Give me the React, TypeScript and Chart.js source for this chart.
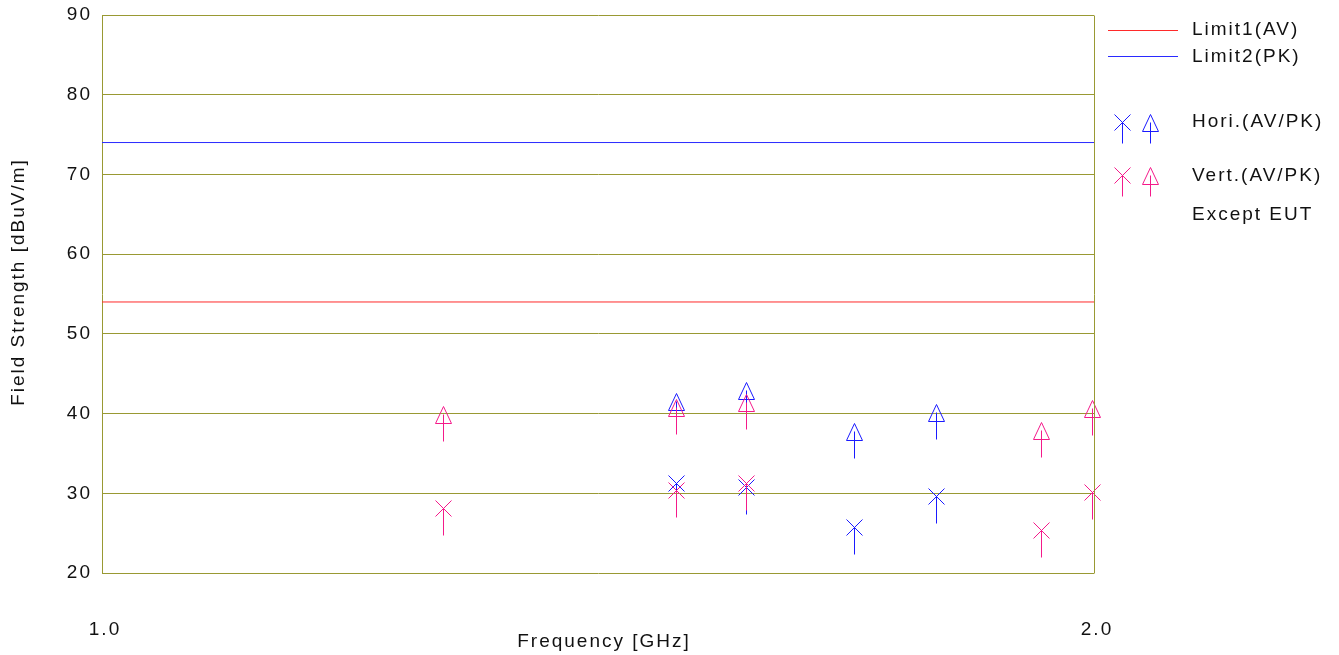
import { useEffect, useRef } from 'react';
import { Chart, registerables } from 'chart.js';
Chart.register(...registerables);

const FONT = '"Liberation Sans", Arial, sans-serif';
const FONT_SIZE = 19;
const SPACING = '2px';

const yMin = 20;
const yMax = 90;
const yStep = 10;
const xMin = 1.0;
const xMax = 2.0;
const xTickValues = [1.0, 2.0];
const xTickLabels = ['1.0', '2.0'];
const xTitle = 'Frequency [GHz]';
const yTitle = 'Field Strength [dBuV/m]';

const limit1AV = 54;
const limit2PK = 74;

const horiFreq = [1.579, 1.649, 1.758, 1.841];
const horiAV = [31.3, 30.8, 25.8, 29.6];
const horiPK = [41.6, 43.0, 37.8, 40.2];

const vertFreq = [1.344, 1.579, 1.649, 1.947, 1.998];
const vertAV = [28.1, 30.4, 31.3, 25.4, 30.2];
const vertPK = [40.0, 40.8, 41.5, 37.9, 40.7];

const legendLabels = ['Limit1(AV)', 'Limit2(PK)', 'Hori.(AV/PK)', 'Vert.(AV/PK)', 'Except EUT'];

const OLIVE = '#999933';
const RED = '#ff2a2a';
const BLUE = '#2a2aff';
const HORI = '#1a1aff';
const VERT = '#f41a8a';
const TEXT = '#111111';

function drawMarker(ctx: CanvasRenderingContext2D, kind: string, x: number, y: number, color: string, tail: number) {
  const cx = Math.round(x) + 0.5;
  const cy = Math.round(y) + 0.5;
  ctx.save();
  ctx.strokeStyle = color;
  ctx.lineWidth = 1;
  ctx.beginPath();
  if (kind === 'x') {
    ctx.moveTo(cx - 8, cy - 8);
    ctx.lineTo(cx + 8, cy + 8);
    ctx.moveTo(cx + 8, cy - 8);
    ctx.lineTo(cx - 8, cy + 8);
  } else {
    ctx.moveTo(cx, cy - 8);
    ctx.lineTo(cx + 8, cy + 9);
    ctx.lineTo(cx - 8, cy + 9);
    ctx.closePath();
  }
  ctx.moveTo(cx, cy);
  ctx.lineTo(cx, cy + tail);
  ctx.stroke();
  ctx.restore();
}

const toPts = (xs: number[], ys: number[]) => xs.map((x, i) => ({ x, y: ys[i] }));

export default function App() {
  const ref = useRef<HTMLCanvasElement | null>(null);
  useEffect(() => {
    if (!ref.current) return;
    const customPlugin = {
      id: 'custom',
      beforeDraw(chart: any) {
        (chart.ctx as any).letterSpacing = SPACING;
      },
      afterDatasetsDraw(chart: any) {
        const ctx = chart.ctx as CanvasRenderingContext2D;
        chart.data.datasets.forEach((ds: any, i: number) => {
          if (!ds.markerKind) return;
          const meta = chart.getDatasetMeta(i);
          meta.data.forEach((el: any) => {
            drawMarker(ctx, ds.markerKind, el.x, el.y, ds.markerColor, 27);
          });
        });
        const a = chart.chartArea;
        ctx.save();
        ctx.strokeStyle = OLIVE;
        ctx.lineWidth = 1;
        ctx.beginPath();
        ctx.moveTo(Math.round(a.right) + 0.5, Math.round(a.top) + 0.5);
        ctx.lineTo(Math.round(a.right) + 0.5, Math.round(a.bottom) + 0.5);
        ctx.stroke();
        ctx.restore();
      },
      afterDraw(chart: any) {
        const ctx = chart.ctx as CanvasRenderingContext2D;
        const a = chart.chartArea;
        const xs = chart.scales.x;
        ctx.save();
        (ctx as any).letterSpacing = SPACING;
        ctx.font = `${FONT_SIZE}px ${FONT}`;
        ctx.fillStyle = TEXT;
        ctx.textBaseline = 'middle';
        ctx.textAlign = 'center';
        xTickValues.forEach((v, i) => {
          ctx.fillText(xTickLabels[i], xs.getPixelForValue(v) + 3, 630);
        });
        ctx.fillText(xTitle, (a.left + a.right) / 2 + 6, 642);
        ctx.save();
        ctx.translate(18.5, 282);
        ctx.rotate(-Math.PI / 2);
        ctx.fillText(yTitle, 0, 0);
        ctx.restore();
        // legend
        const lx = a.right + 14;
        ctx.lineWidth = 1;
        ctx.strokeStyle = RED;
        ctx.beginPath();
        ctx.moveTo(lx, 30.5);
        ctx.lineTo(lx + 70, 30.5);
        ctx.stroke();
        ctx.strokeStyle = BLUE;
        ctx.beginPath();
        ctx.moveTo(lx, 56.5);
        ctx.lineTo(lx + 70, 56.5);
        ctx.stroke();
        drawMarker(ctx, 'x', lx + 14, 122, HORI, 21);
        drawMarker(ctx, 'tri', lx + 42, 122, HORI, 21);
        drawMarker(ctx, 'x', lx + 14, 175, VERT, 21);
        drawMarker(ctx, 'tri', lx + 42, 175, VERT, 21);
        ctx.textAlign = 'left';
        const tx = lx + 84;
        const ys = [30, 57, 122, 176, 215];
        legendLabels.forEach((t, i) => ctx.fillText(t, tx, ys[i]));
        ctx.restore();
      },
    };

    const chart = new Chart(ref.current, {
      type: 'scatter',
      data: {
        datasets: [
          { label: 'Limit1(AV)', type: 'line', data: [{ x: xMin, y: limit1AV }, { x: xMax, y: limit1AV }], borderColor: RED, borderWidth: 1, pointRadius: 0 },
          { label: 'Limit2(PK)', type: 'line', data: [{ x: xMin, y: limit2PK }, { x: xMax, y: limit2PK }], borderColor: BLUE, borderWidth: 1, pointRadius: 0 },
          { label: 'Hori AV', data: toPts(horiFreq, horiAV), pointRadius: 0, markerKind: 'x', markerColor: HORI } as any,
          { label: 'Hori PK', data: toPts(horiFreq, horiPK), pointRadius: 0, markerKind: 'tri', markerColor: HORI } as any,
          { label: 'Vert AV', data: toPts(vertFreq, vertAV), pointRadius: 0, markerKind: 'x', markerColor: VERT } as any,
          { label: 'Vert PK', data: toPts(vertFreq, vertPK), pointRadius: 0, markerKind: 'tri', markerColor: VERT } as any,
        ],
      },
      options: {
        responsive: false,
        animation: false,
        devicePixelRatio: 1,
        events: [],
        layout: { padding: { left: 0, top: 15, right: 245, bottom: 82 } },
        plugins: { legend: { display: false }, tooltip: { enabled: false } },
        scales: {
          x: {
            type: 'linear',
            min: xMin,
            max: xMax,
            afterFit: (s: any) => { s.height = 0; s.paddingLeft = 0; s.paddingRight = 0; },
            grid: { display: false, drawTicks: false },
            border: { display: false },
            ticks: { display: false },
          },
          y: {
            min: yMin,
            max: yMax,
            afterFit: (s: any) => { s.width = 102; s.paddingTop = 0; s.paddingBottom = 0; },
            grid: { color: OLIVE, lineWidth: 1, drawTicks: false },
            border: { display: true, color: OLIVE, width: 1 },
            ticks: { stepSize: yStep, padding: 10, color: TEXT, font: { family: FONT, size: FONT_SIZE } },
            title: { display: false },
          },
        },
      },
      plugins: [customPlugin],
    } as any);
    return () => chart.destroy();
  }, []);
  return (
    <div style={{ position: 'fixed', left: 0, top: 0, width: 1339, height: 655, background: '#fff' }}>
      <canvas ref={ref} width={1339} height={655} style={{ display: 'block' }} />
    </div>
  );
}
